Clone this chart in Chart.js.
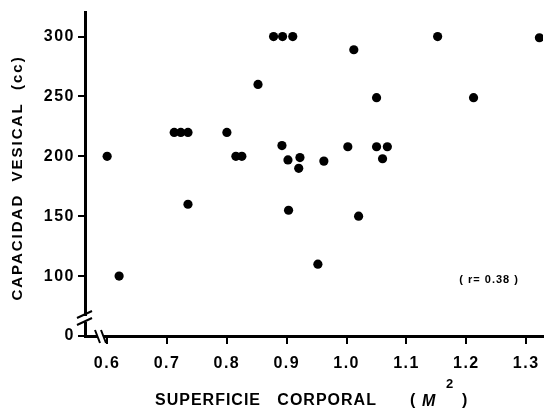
<!DOCTYPE html>
<html>
<head>
<meta charset="utf-8">
<script src="https://cdn.jsdelivr.net/npm/chart.js@4"></script>
<style>
body{margin:0;background:#fff;}
canvas{display:block;}
</style>
</head>
<body>
<canvas id="scatterGraph" width="548" height="410"></canvas>
<script>
// superficie corporal (m2) / capacidad vesical (cc)
var xValues=[0.600,0.620,0.712,0.723,0.735,0.735,0.800,0.815,0.825,0.852,
	0.878,0.893,0.910,0.892,0.902,0.922,0.920,0.903,0.952,0.962,
	1.002,1.012,1.020,1.050,1.050,1.060,1.068,1.152,1.212,1.322];
var yValues=[200,100,220,220,220,160,220,200,200,260,
	300,300,300,209,197,199,190,155,110,196,
	208,289,150,249,208,198,208,300,249,299];
var xTicks=[0.6,0.7,0.8,0.9,1.0,1.1,1.2,1.3];
var xTickLabels=["0.6","0.7","0.8","0.9","1.0","1.1","1.2","1.3"];
// axis is broken: the lowest tick stands for 0
var yTicks=[50,100,150,200,250,300];
var yTickLabels=["0","100","150","200","250","300"];
var yTitle="CAPACIDAD  VESICAL  (cc)";
var xTitle="SUPERFICIE   CORPORAL";
var rText="( r= 0.38 )";
var rPos=[1.238,97];

var points=[];
for(var i=0;i<xValues.length;i++){
	points.push({x:xValues[i],y:yValues[i]});
}

var fontName="'Liberation Sans', Arial, sans-serif";

var decorPlugin={
	id:"decor",
	beforeDraw:function(chart){
		chart.ctx.letterSpacing="1.5px";
	},
	afterDraw:function(chart){
		var ctx=chart.ctx;
		var ca=chart.chartArea;
		ctx.save();
		ctx.letterSpacing="0px";
		// axis break on y
		var by=ca.bottom-17;
		ctx.fillStyle="#fff";
		ctx.fillRect(ca.left-4,by-3,8,6);
		ctx.strokeStyle="#000";
		ctx.lineWidth=2;
		ctx.beginPath();
		ctx.moveTo(ca.left-8,by-1);ctx.lineTo(ca.left+7,by-8);
		ctx.moveTo(ca.left-8,by+6);ctx.lineTo(ca.left+7,by-1);
		ctx.stroke();
		// axis break on x
		var bx=ca.left+15;
		ctx.fillRect(bx-2,ca.bottom-3,5,6);
		ctx.beginPath();
		ctx.moveTo(bx-5,ca.bottom-6);ctx.lineTo(bx,ca.bottom+7);
		ctx.moveTo(bx+1,ca.bottom-6);ctx.lineTo(bx+6,ca.bottom+7);
		ctx.stroke();
		// titles
		ctx.fillStyle="#000";
		ctx.textBaseline="middle";
		ctx.letterSpacing="2px";
		ctx.font="bold 15px "+fontName;
		ctx.save();
		ctx.translate(18,178);
		ctx.rotate(-Math.PI/2);
		ctx.textAlign="center";
		ctx.fillText(yTitle,0,0);
		ctx.restore();
		ctx.textAlign="left";
		ctx.font="bold 16px "+fontName;
		ctx.letterSpacing="1px";
		ctx.fillText(xTitle,155,401);
		ctx.letterSpacing="0px";
		ctx.fillText("(",410,401);
		ctx.font="italic bold 16px "+fontName;
		ctx.fillText("M",422,402);
		ctx.font="bold 13px "+fontName;
		ctx.fillText("2",446,384);
		ctx.font="bold 16px "+fontName;
		ctx.fillText(")",462,401);
		// correlation note
		ctx.font="bold 11px "+fontName;
		ctx.textAlign="center";
		ctx.letterSpacing="1px";
		ctx.fillText(rText,chart.scales.x.getPixelForValue(rPos[0]),chart.scales.y.getPixelForValue(rPos[1]));
		ctx.restore();
	}
};

var ctx1=document.getElementById("scatterGraph").getContext("2d");
var scatterChart=new Chart(ctx1,{
	type:"scatter",
	data:{
		datasets:[{
			data:points,
			backgroundColor:"#000",
			borderWidth:0,
			pointRadius:4.6,
			pointHoverRadius:4.6
		}]
	},
	options:{
		responsive:false,
		animation:false,
		layout:{padding:{left:0,top:12,right:5,bottom:0}},
		plugins:{legend:{display:false},tooltip:{enabled:false}},
		scales:{
			x:{
				type:"linear",
				min:0.563,
				max:1.328,
				afterBuildTicks:function(scale){
					scale.ticks=xTicks.map(function(v){return {value:v};});
				},
				afterFit:function(scale){scale.height=74;},
				border:{display:true,color:"#000",width:3},
				grid:{drawOnChartArea:false,drawTicks:true,tickLength:8,color:"#000",lineWidth:2},
				ticks:{
					color:"#000",
					padding:10,
					maxRotation:0,
					font:{family:fontName,size:16,weight:"bold"},
					callback:function(v,i){return xTickLabels[i];}
				}
			},
			y:{
				type:"linear",
				min:50,
				max:320,
				afterBuildTicks:function(scale){
					scale.ticks=yTicks.map(function(v){return {value:v};});
				},
				afterFit:function(scale){scale.width=85;},
				border:{display:true,color:"#000",width:3},
				grid:{drawOnChartArea:false,drawTicks:true,tickLength:7,color:"#000",lineWidth:2},
				ticks:{
					color:"#000",
					padding:3,
					font:{family:fontName,size:16,weight:"bold"},
					callback:function(v,i){return yTickLabels[i];}
				}
			}
		}
	},
	plugins:[decorPlugin]
});
</script>
</body>
</html>
